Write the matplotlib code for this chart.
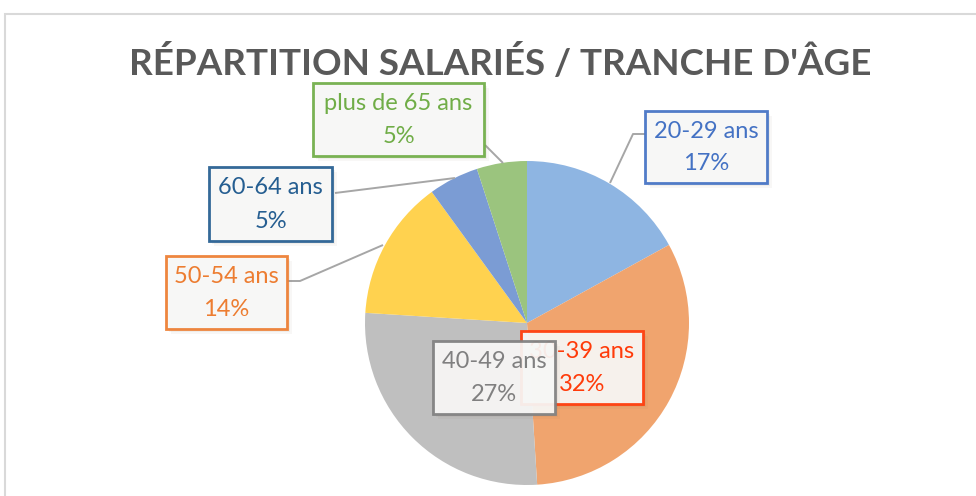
import matplotlib.pyplot as plt
from matplotlib.patches import Rectangle

# data
categories = ['20-29 ans', '30-39 ans', '40-49 ans', '50-54 ans', '60-64 ans', 'plus de 65 ans']
shares = [17, 32, 27, 14, 5, 5]
pct_labels = ['17%', '32%', '27%', '14%', '5%', '5%']
slice_colors = ['#8EB5E2', '#F0A46E', '#BFBFBF', '#FFD24F', '#7B9CD4', '#9BC47E']
label_colors = ['#4472C4', '#FF3B0A', '#808080', '#ED7D31', '#255E91', '#70AD47']
title = "RÉPARTITION SALARIÉS / TRANCHE D'ÂGE"

W, H = 976, 496
plt.rcParams['font.family'] = ['Lato', 'DejaVu Sans']

fig = plt.figure(figsize=(W / 100, H / 100), dpi=100)
ax = fig.add_axes([0, 0, 1, 1])


def py(y):
    # pixel row (top origin) -> axes y
    return H - y


# chart area frame
ax.add_patch(Rectangle((5, py(W)), W, py(14) - py(W), fill=False,
                       edgecolor='#D9D9D9', lw=1.5, zorder=0))

ax.text(500, py(63), title, ha='center', va='center', fontsize=26.5,
        fontweight='bold', color='#595959')

ax.pie(shares, colors=slice_colors, startangle=90, counterclock=False,
       center=(527, py(323)), radius=162, frame=True,
       wedgeprops=dict(linewidth=0), normalize=True)
ax.set_xlim(0, W)
ax.set_ylim(0, H)
ax.set_aspect('equal')
ax.axis('off')

# label boxes (left, top, right, bottom) in pixels
boxes = [(645, 111, 767, 183), (521, 331, 643, 404), (433, 341, 555, 414),
         (166, 256, 287, 329), (209, 167, 332, 241), (313, 83, 484, 156)]

leaders = {0: [(645, 134), (633, 134), (610, 183)],
           3: [(287, 281), (300, 281), (383, 245)],
           4: [(335, 193), (455, 178)],
           5: [(485, 145), (503, 163)]}

for i, pts in leaders.items():
    ax.plot([p[0] for p in pts], [py(p[1]) for p in pts], color='#A6A6A6',
            lw=1.4, zorder=2, solid_capstyle='butt')

for i, (x0, y0, x1, y1) in enumerate(boxes):
    z = 3 + i * 3
    for k, a in [(5, 0.05), (3, 0.07)]:
        ax.add_patch(Rectangle((x0 + k, py(y1) - k), x1 - x0, y1 - y0,
                               facecolor='#7F6A5A', edgecolor='none',
                               alpha=a, zorder=z))
    ax.add_patch(Rectangle((x0, py(y1)), x1 - x0, y1 - y0,
                           facecolor='#F8F8F7', edgecolor=label_colors[i],
                           lw=2, alpha=0.93, zorder=z + 1))
    cx = (x0 + x1) / 2
    cy = (y0 + y1) / 2
    ax.text(cx, py(cy - 16), categories[i], ha='center', va='center',
            fontsize=17, color=label_colors[i], zorder=z + 2)
    ax.text(cx, py(cy + 17), pct_labels[i], ha='center', va='center',
            fontsize=17, color=label_colors[i], zorder=z + 2)

fig.savefig('out.png', dpi=100, facecolor='white')
